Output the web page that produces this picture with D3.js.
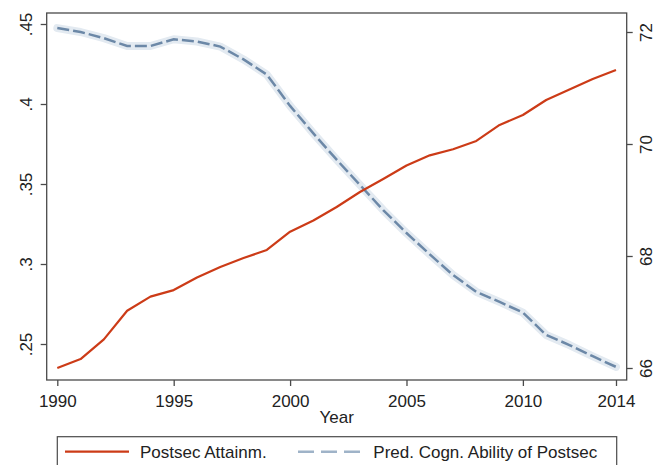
<!DOCTYPE html>
<html>
<head>
<meta charset="utf-8">
<script src="https://cdn.jsdelivr.net/npm/d3@7"></script>
<style>
  body { margin: 0; background: #fff; }
  svg text { font-family: "Liberation Sans", Arial, sans-serif; fill: #222; }
</style>
</head>
<body>
<svg id="chart" width="654" height="465"></svg>
<script>
// data
const years = d3.range(1990, 2015);
const attainment = [0.235, 0.2406, 0.2529, 0.2708, 0.2796, 0.2837, 0.2916, 0.2981, 0.3037, 0.3088,
  0.3202, 0.3272, 0.3356, 0.345, 0.3531, 0.3616, 0.3679, 0.3717, 0.3769, 0.3869,
  0.3931, 0.4025, 0.409, 0.4156, 0.4213];
const ability = [72.07, 72.0, 71.89, 71.75, 71.75, 71.87, 71.83, 71.74, 71.51, 71.24,
  70.68, 70.19, 69.72, 69.27, 68.82, 68.41, 68.03, 67.66, 67.36, 67.18,
  66.99, 66.59, 66.41, 66.21, 66.02];
const xTicks = [1990, 1995, 2000, 2005, 2010, 2014];
const leftTicks = [0.25, 0.3, 0.35, 0.4, 0.45];
const rightTicks = [66, 68, 70, 72];
const seriesNames = ["Postsec Attainm.", "Pred. Cogn. Ability of Postsec"];

const red = "#cc3b17", blue = "#6c88a7", halo = "#e3eaf1", frameCol = "#4a4a4a";

const svg = d3.select("#chart");
const box = {left: 46.7, right: 626.7, top: 13, bottom: 380};

const x = d3.scaleLinear().domain([1990, 2014]).range([57.3, 616]);
const yL = d3.scaleLinear().domain([0.25, 0.45]).range([344, 24]);
const yR = d3.scaleLinear().domain([66, 72]).range([368, 32]);

// left axis
const gl = svg.append("g").attr("transform", `translate(${box.left},0)`)
  .call(d3.axisLeft(yL).tickValues(leftTicks).tickSize(6).tickPadding(0)
    .tickFormat(d => d3.format(".2~f")(d).replace(/^0/, "")));
gl.select(".domain").remove();
gl.selectAll(".tick line").attr("stroke", frameCol).attr("stroke-width", 1.3);
gl.selectAll(".tick text")
  .attr("x", null).attr("dy", null)
  .attr("text-anchor", "middle")
  .attr("dominant-baseline", "central")
  .attr("transform", `translate(${26 - box.left},0) rotate(-90)`)
  .style("font-size", "17px");

// right axis
const gr = svg.append("g").attr("transform", `translate(${box.right},0)`)
  .call(d3.axisRight(yR).tickValues(rightTicks).tickSize(6).tickPadding(0).tickFormat(d3.format("d")));
gr.select(".domain").remove();
gr.selectAll(".tick line").attr("stroke", frameCol).attr("stroke-width", 1.3);
gr.selectAll(".tick text")
  .attr("x", null).attr("dy", null)
  .attr("text-anchor", "middle")
  .attr("dominant-baseline", "central")
  .attr("transform", `translate(${646 - box.right},0) rotate(-90)`)
  .style("font-size", "17px");

// bottom axis
const gb = svg.append("g").attr("transform", `translate(0,${box.bottom})`)
  .call(d3.axisBottom(x).tickValues(xTicks).tickSize(6).tickPadding(4).tickFormat(d3.format("d")));
gb.select(".domain").remove();
gb.selectAll(".tick line").attr("stroke", frameCol).attr("stroke-width", 1.3);
gb.selectAll(".tick text").attr("dy", null).attr("y", 26.5).style("font-size", "17px");

svg.append("text")
  .attr("x", (box.left + box.right) / 2).attr("y", 423)
  .attr("text-anchor", "middle")
  .style("font-size", "17px")
  .text("Year");

// lines
const lineL = d3.line().x((d, i) => x(years[i])).y(d => yL(d));
const lineR = d3.line().x((d, i) => x(years[i])).y(d => yR(d));

svg.append("path").datum(ability)
  .attr("d", lineR).attr("fill", "none")
  .attr("stroke", halo).attr("stroke-width", 8)
  .attr("stroke-linejoin", "round").attr("stroke-linecap", "round");
svg.append("path").datum(ability)
  .attr("d", lineR).attr("fill", "none")
  .attr("stroke", blue).attr("stroke-width", 2.5)
  .attr("stroke-dasharray", "12,4");

svg.append("path").datum(attainment)
  .attr("d", lineL).attr("fill", "none")
  .attr("stroke", red).attr("stroke-width", 2.2)
  .attr("stroke-linejoin", "round");

// plot frame
svg.append("rect")
  .attr("x", box.left).attr("y", box.top)
  .attr("width", box.right - box.left).attr("height", box.bottom - box.top)
  .attr("fill", "none").attr("stroke", frameCol).attr("stroke-width", 1.3);

// legend
const lg = svg.append("g");
lg.append("rect")
  .attr("x", 57.3).attr("y", 436.7).attr("width", 559.4).attr("height", 40)
  .attr("fill", "#fff").attr("stroke", frameCol).attr("stroke-width", 1.2);
lg.append("line").attr("x1", 65).attr("x2", 129).attr("y1", 451.7).attr("y2", 451.7)
  .attr("stroke", red).attr("stroke-width", 2.2);
lg.append("text").attr("x", 140).attr("y", 458.3).style("font-size", "17px").text(seriesNames[0]);
lg.append("line").attr("x1", 298).attr("x2", 367).attr("y1", 451.7).attr("y2", 451.7)
  .attr("stroke", "#9fb3c8").attr("stroke-width", 2.4).attr("stroke-dasharray", "16,7");
lg.append("text").attr("x", 373.3).attr("y", 458.3).style("font-size", "17px").text(seriesNames[1]);
</script>
</body>
</html>
